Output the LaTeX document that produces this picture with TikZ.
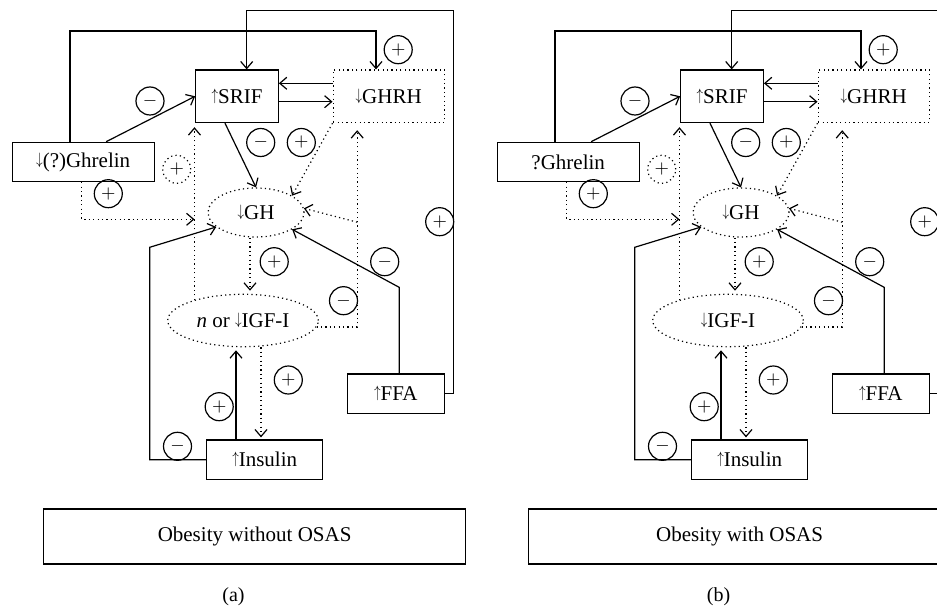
\documentclass[tikz,border=0pt]{standalone}
\usepackage{fontspec}
\usepackage{graphicx}
\setmainfont{Liberation Serif}
\usetikzlibrary{arrows.meta, positioning, calc, shapes.geometric}

% slim text arrows
\newcommand{\hup}{\raisebox{1.5pt}{\scalebox{0.6}[0.75]{$\uparrow$}}}
\newcommand{\hdn}{\raisebox{1.5pt}{\scalebox{0.6}[0.75]{$\downarrow$}}}

\begin{document}
\begin{tikzpicture}[
    x=0.5pt, y=-0.5pt,
    every node/.style={font=\fontsize{10.5}{12}\selectfont},
    solidbox/.style={draw, line width=0.6pt, inner sep=0pt},
    dotbox/.style={draw, line width=0.6pt, dash pattern=on 0.6pt off 1.6pt, inner sep=0pt},
    dotoval/.style={ellipse, dotbox},
    sign/.style={circle, draw, line width=0.6pt, minimum size=14pt, inner sep=0pt, font=\small},
    dotsign/.style={sign, dash pattern=on 0.6pt off 1.6pt},
    arr/.style={line width=0.6pt, -{Straight Barb[length=3.5pt, width=6pt]}},
    dotarr/.style={arr, dash pattern=on 0.6pt off 1.6pt}
]
    \useasboundingbox (0,0) rectangle (937,609);
    \clip (0,0) rectangle (937,609);

    \foreach \dx/\ghrtext/\igftext/\obstext/\tag in {%
        0/{\hdn(?)Ghrelin}/{\textit{n} or \hdn IGF-I}/{Obesity without OSAS}/{(a)},%
        485/{?Ghrelin}/{\hdn IGF-I}/{Obesity with OSAS}/{(b)}} {
    \begin{scope}[shift={(\dx,0)}]
        % 1. hormone boxes
        \node[solidbox, minimum width=41.3pt, minimum height=26.3pt] (srif) at (237,96.3) {\hup SRIF};
        \node[dotbox, minimum width=55.6pt, minimum height=26.3pt] (ghrh) at (388.7,96.3) {\hdn GHRH};
        \node[solidbox, minimum width=70.9pt, minimum height=19.7pt] (ghr) at (83.2,162) {\ghrtext};
        \node[dotoval, minimum width=48pt, minimum height=24.5pt] (gh) at (256,212.5) {\hdn GH};
        \node[dotoval, minimum width=75.3pt, minimum height=26.2pt] (igf) at (243,320.5) {\igftext};
        \node[solidbox, minimum width=48.5pt, minimum height=19.7pt] (ffa) at (395.8,393.7) {\hup FFA};
        \node[solidbox, minimum width=58pt, minimum height=19.7pt] (ins) at (264.7,459.7) {\hup Insulin};
        \node[solidbox, minimum width=211pt, minimum height=27.5pt] (obs) at (254.6,536.5) {\obstext};
        \node[font=\fontsize{10}{12}\selectfont] (tag) at (233.5,597) {\tag};

        % 2. solid connectors
        \draw[arr] (ffa.east) -- ++(8.7,0) |- (246.7,10.7) -- ($(srif.north)+(9.7,0)$);
        \draw[arr] ($(ghr.north)+(-13.2,0)$) |- (376,31) -- ($(ghrh.north)+(-12.7,0)$);
        \draw[arr] ($(ghrh.west)+(0,-13)$) -- ($(srif.east)+(0,-13)$);
        \draw[arr] ($(srif.east)+(0,5.4)$) -- ($(ghrh.west)+(0,5.4)$);
        \draw[arr] ($(ghr.north)+(23,0)$) -- (srif.west);
        \draw[arr] ($(srif.south)+(-12,0)$) -- (gh.north);
        \draw[arr] ($(ffa.north)+(3.5,0)$) -- ++(0,-86) -- (gh.-25);
        \draw[arr] ($(ins.north)+(-28.7,0)$) -- ($(igf.south)+(-7,3)$);
        \draw[arr] (ins.west) -| (149.7,247.3) -- (gh.200);

        % 3. dotted connectors
        \coordinate (lv) at (igf.157);
        \coordinate (rj) at ($(ghrh.south west)+(24.7,99)$);
        \draw[dotarr] (ghrh.south west) -- (gh.25);
        \draw[dotarr, shorten >=2pt] (lv) -- (lv |- srif.south);
        \draw[dotarr] ($(ghr.south)+(-1.5,0)$) |- ($(lv |- gh)+(0,6.8)$);
        \draw[dotarr, shorten >=3.5pt] (igf.-5) -| ($(ghrh.south west)+(24.7,0)$);
        \draw[dotarr] (rj) -- (gh.5);
        \draw[dotarr] ($(gh.south)+(-6,0)$) -- ($(igf.north)+(7,-3)$);
        \draw[dotarr] ($(igf.south)+(18,0)$) -- ($(ins.north)+(-3.7,-2)$);

        % 4. effect signs
        \node[sign] (s1) at (398.2,49.7) {$+$};
        \node[sign] (s2) at (150,101) {$-$};
        \node[sign] (s3) at (260.7,142.5) {$-$};
        \node[sign] (s4) at (301.3,142.5) {$+$};
        \node[dotsign] (s5) at (176.7,169.3) {$+$};
        \node[sign] (s6) at (108.3,193.7) {$+$};
        \node[sign] (s7) at (439.7,221.7) {$+$};
        \node[sign] (s8) at (274.2,261.7) {$+$};
        \node[sign] (s9) at (384.7,261.7) {$-$};
        \node[sign] (s10) at (343.5,300.7) {$-$};
        \node[sign] (s11) at (288.3,380) {$+$};
        \node[sign] (s12) at (219.2,406.7) {$+$};
        \node[sign] (s13) at (177.5,446.3) {$-$};
    \end{scope}
    }
\end{tikzpicture}
\end{document}
